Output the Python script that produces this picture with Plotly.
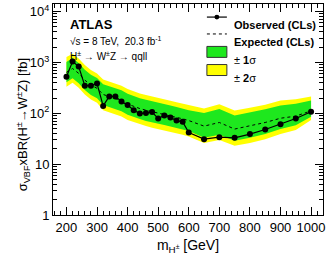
import plotly.graph_objects as go

mass = [200, 220, 240, 260, 280, 300, 320, 340, 360, 380, 400, 420, 440, 460, 480,
        500, 520, 540, 560, 580, 600, 650, 700, 750, 800, 850, 900, 950, 1000]
observed = [525, 1040, 830, 350, 350, 385, 140, 215, 215, 170, 145, 115, 99, 102, 106,
            79, 91, 83, 72, 68, 42, 31, 34, 33, 39, 48, 61, 79, 107]
expected = [640, 760, 610, 450, 360, 310, 235, 213, 197, 177, 152, 136, 124, 115, 107,
            100, 95, 89, 83, 78, 72, 56, 66, 49, 56, 66, 80, 88, 112]
plus2 = [1280, 1480, 1200, 890, 710, 610, 465, 420, 390, 350, 300, 270, 246, 228, 212,
         198, 188, 176, 165, 155, 143, 125, 150, 113, 128, 148, 178, 190, 213]
plus1 = [1020, 1230, 980, 720, 575, 495, 375, 340, 315, 283, 243, 218, 198, 184, 171,
         160, 152, 142, 133, 125, 115, 102, 122, 91, 103, 120, 142, 155, 178]
minus1 = [410, 490, 390, 288, 230, 198, 146, 132, 122, 110, 94, 84, 77, 71, 66,
          62, 59, 55, 51, 48, 45, 33, 38, 29, 33, 39, 49, 58, 86]
minus2 = [333, 400, 317, 234, 187, 161, 115, 104, 97, 87, 74, 67, 61, 56, 52,
          49, 46, 44, 41, 38, 35, 26, 30, 23, 26, 31, 39, 47, 74]

x_ticks = [200, 300, 400, 500, 600, 700, 800, 900, 1000]
y_tickvals = [1, 10, 100, 1000, 10000]
y_ticktext = ["1", "10", "10<sup>2</sup>", "10<sup>3</sup>", "10<sup>4</sup>"]

GREEN = "#1ee81e"
YELLOW = "#ffff00"
FONT = "Liberation Sans, Arial, Helvetica, sans-serif"

fig = go.Figure()
fig.add_trace(go.Scatter(x=mass, y=minus2, mode="lines", line=dict(width=0, color=YELLOW),
                         showlegend=False, hoverinfo="skip"))
fig.add_trace(go.Scatter(x=mass, y=plus2, mode="lines", line=dict(width=0, color=YELLOW),
                         fill="tonexty", fillcolor=YELLOW, showlegend=False, hoverinfo="skip"))
fig.add_trace(go.Scatter(x=mass, y=minus1, mode="lines", line=dict(width=0, color=GREEN),
                         showlegend=False, hoverinfo="skip"))
fig.add_trace(go.Scatter(x=mass, y=plus1, mode="lines", line=dict(width=0, color=GREEN),
                         fill="tonexty", fillcolor=GREEN, showlegend=False, hoverinfo="skip"))
fig.add_trace(go.Scatter(x=mass, y=expected, mode="lines",
                         line=dict(color="black", width=1, dash="dot"), showlegend=False))
fig.add_trace(go.Scatter(x=mass, y=observed, mode="lines+markers",
                         line=dict(color="black", width=1.2),
                         marker=dict(color="black", size=6), showlegend=False))

axis_common = dict(showline=True, linecolor="black", linewidth=1, mirror="allticks",
                   ticks="inside", tickcolor="black", showgrid=False, zeroline=False,
                   tickfont=dict(family=FONT, size=13, color="black"))

fig.update_xaxes(range=[156, 1039], tickvals=x_ticks, ticklen=8,
                 minor=dict(ticks="inside", dtick=20, ticklen=4, tickcolor="black"),
                 title=dict(text="m<sub>H<sup>±</sup></sub> [GeV]",
                            font=dict(family=FONT, size=14, color="black"), standoff=6),
                 **axis_common)
fig.update_yaxes(type="log", range=[0, 4.15], tickvals=y_tickvals, ticktext=y_ticktext,
                 ticklen=8,
                 minor=dict(ticks="inside", ticklen=4, tickcolor="black", dtick="D1"),
                 **axis_common)

ann = []
ann.append(dict(x=-0.152, y=0.43, xref="paper", yref="paper", textangle=-90,
                text="σ<sub>VBF</sub>xBR(H<sup>±</sup>→W<sup>±</sup>Z) [fb]",
                showarrow=False, font=dict(family=FONT, size=13, color="black")))
ann.append(dict(x=0.056, y=0.948, xref="paper", yref="paper", xanchor="left",
                text="<b>ATLAS</b>", showarrow=False,
                font=dict(family=FONT, size=13, color="black")))
ann.append(dict(x=0.056, y=0.863, xref="paper", yref="paper", xanchor="left",
                text="√s = 8 TeV,  20.3 fb<sup>-1</sup>", showarrow=False,
                font=dict(family=FONT, size=10, color="black")))
ann.append(dict(x=0.056, y=0.791, xref="paper", yref="paper", xanchor="left",
                text="H<sup>±</sup> → W<sup>±</sup>Z → qqll", showarrow=False,
                font=dict(family=FONT, size=10, color="black")))

leg_x0, leg_x1, leg_tx = 0.570, 0.644, 0.663
rows = [0.938, 0.858, 0.773, 0.687]
labels = ["<b>Observed (CLs)</b>", "<b>Expected (CLs)</b>", "± <b>1</b>σ", "± <b>2</b>σ"]
for yy, lab in zip(rows, labels):
    ann.append(dict(x=leg_tx, y=yy, xref="paper", yref="paper", xanchor="left",
                    text=lab, showarrow=False,
                    font=dict(family=FONT, size=11, color="black")))

shapes = []
shapes.append(dict(type="line", xref="paper", yref="paper", x0=leg_x0, x1=leg_x1,
                   y0=rows[0], y1=rows[0], line=dict(color="black", width=1.2)))
xm = (leg_x0 + leg_x1) / 2
shapes.append(dict(type="circle", xref="paper", yref="paper", x0=xm - 0.009, x1=xm + 0.009,
                   y0=rows[0] - 0.0115, y1=rows[0] + 0.0115, fillcolor="black",
                   line=dict(color="black", width=0)))
shapes.append(dict(type="line", xref="paper", yref="paper", x0=leg_x0, x1=leg_x1,
                   y0=rows[1], y1=rows[1], line=dict(color="black", width=1, dash="dot")))
for yy, col in [(rows[2], GREEN), (rows[3], YELLOW)]:
    shapes.append(dict(type="rect", xref="paper", yref="paper", x0=leg_x0, x1=leg_x1,
                       y0=yy - 0.026, y1=yy + 0.026, fillcolor=col,
                       line=dict(color="#333333", width=1)))

fig.update_layout(width=329, height=255, margin=dict(l=53, r=6, t=4, b=40),
                  paper_bgcolor="white", plot_bgcolor="white",
                  annotations=ann, shapes=shapes, showlegend=False,
                  font=dict(family=FONT, color="black"))

fig.write_html("out.html")
